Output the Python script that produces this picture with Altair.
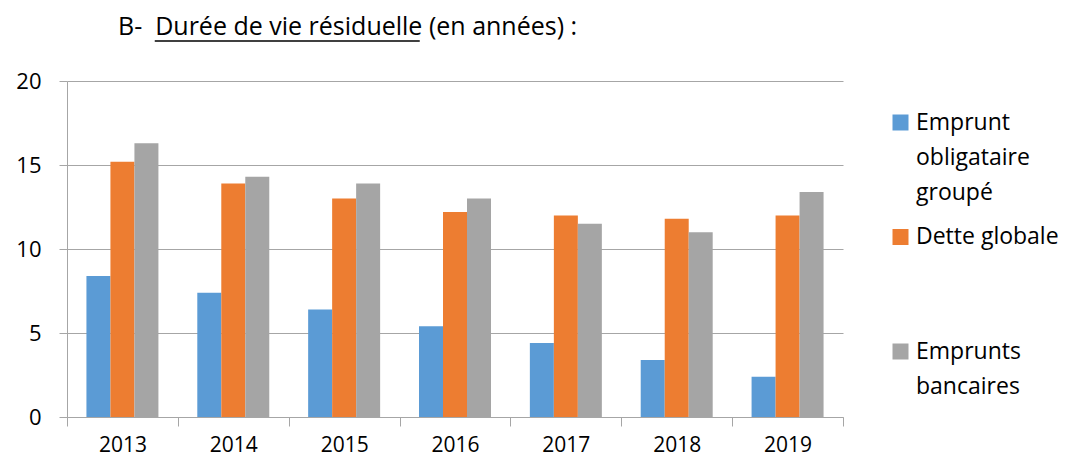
import altair as alt
import pandas as pd

years = ["2013", "2014", "2015", "2016", "2017", "2018", "2019"]
series_names = ["Emprunt obligataire groupé", "Dette globale", "Emprunts bancaires"]
emprunt_obligataire = [8.4, 7.4, 6.4, 5.4, 4.4, 3.4, 2.4]
dette_globale = [15.2, 13.9, 13.0, 12.2, 12.0, 11.8, 12.0]
emprunts_bancaires = [16.3, 14.3, 13.9, 13.0, 11.5, 11.0, 13.4]
colors = ["#5b9bd5", "#ed7d31", "#a5a5a5"]
y_ticks = [0, 5, 10, 15, 20]
title_prefix = "B-\u00a0\u00a0"
title_underlined = "Durée de vie résiduelle"
title_suffix = " (en années) :"

rows = []
for name, vals in zip(series_names, [emprunt_obligataire, dette_globale, emprunts_bancaires]):
    for yr, v in zip(years, vals):
        rows.append({"annee": yr, "serie": name, "valeur": v})
df = pd.DataFrame(rows)

FONT = "Open Sans"
GRID = "#a6a6a6"
TITLE_SIZE = 25

label_expr = (
    "datum.label == 'Emprunt obligataire groupé' ? ['Emprunt', 'obligataire', 'groupé'] : "
    "datum.label == 'Dette globale' ? ['Dette globale', '', ''] : "
    "['Emprunts', 'bancaires', '']"
)

bars = alt.Chart(df).mark_bar().encode(
    x=alt.X("annee:N", sort=years, title=None,
            scale=alt.Scale(paddingInner=0, paddingOuter=0),
            axis=alt.Axis(labelAngle=0, tickBand="extent", tickSize=9, labelPadding=8,
                          labelFontSize=21,
                          domainColor=GRID, tickColor=GRID, grid=False)),
    xOffset=alt.XOffset("serie:N", sort=series_names, scale=alt.Scale(paddingOuter=0.81, paddingInner=0)),
    y=alt.Y("valeur:Q", title=None, scale=alt.Scale(domain=[0, 20], nice=False),
            axis=alt.Axis(values=y_ticks, tickSize=8, labelPadding=18, domainColor=GRID,
                          tickColor=GRID, gridColor=GRID, grid=True)),
    color=alt.Color("serie:N", sort=series_names,
                    scale=alt.Scale(domain=series_names, range=colors),
                    legend=alt.Legend(title=None, orient="none", legendX=822, legendY=30,
                                      symbolType="square", symbolSize=256, symbolStrokeWidth=0,
                                      labelExpr=label_expr, labelLimit=300, labelOffset=4,
                                      rowPadding=20.5, padding=0, labelBaseline="middle")),
)

title_df = pd.DataFrame({"t": [title_prefix + title_underlined + title_suffix]})
title_text = alt.Chart(title_df).mark_text(
    align="left", baseline="alphabetic", font=FONT, fontSize=TITLE_SIZE, color="black"
).encode(text="t:N", x=alt.value(51), y=alt.value(-46))

# underline under "Durée de vie résiduelle" (Open Sans advance widths, in em)
prefix_em = 1.47
underlined_em = 10.6
underline = alt.Chart(pd.DataFrame({"u": [0]})).mark_rule(color="black", strokeWidth=1.5).encode(
    x=alt.value(51 + prefix_em * TITLE_SIZE),
    x2=alt.value(51 + (prefix_em + underlined_em) * TITLE_SIZE),
    y=alt.value(-40),
)

chart = alt.layer(bars, title_text, underline).properties(
    width=776, height=336,
    autosize="none",
    padding={"left": 59, "top": 73, "right": 227, "bottom": 41},
).configure(
    style={"guide-label": {"lineHeight": 35}}
).configure_view(stroke=None).configure_axis(
    labelFont=FONT, labelFontSize=22, labelColor="black"
).configure_legend(
    labelFont=FONT, labelFontSize=23, labelColor="black"
)

chart.save("out.html", embed_options={"renderer": "svg", "actions": False})
